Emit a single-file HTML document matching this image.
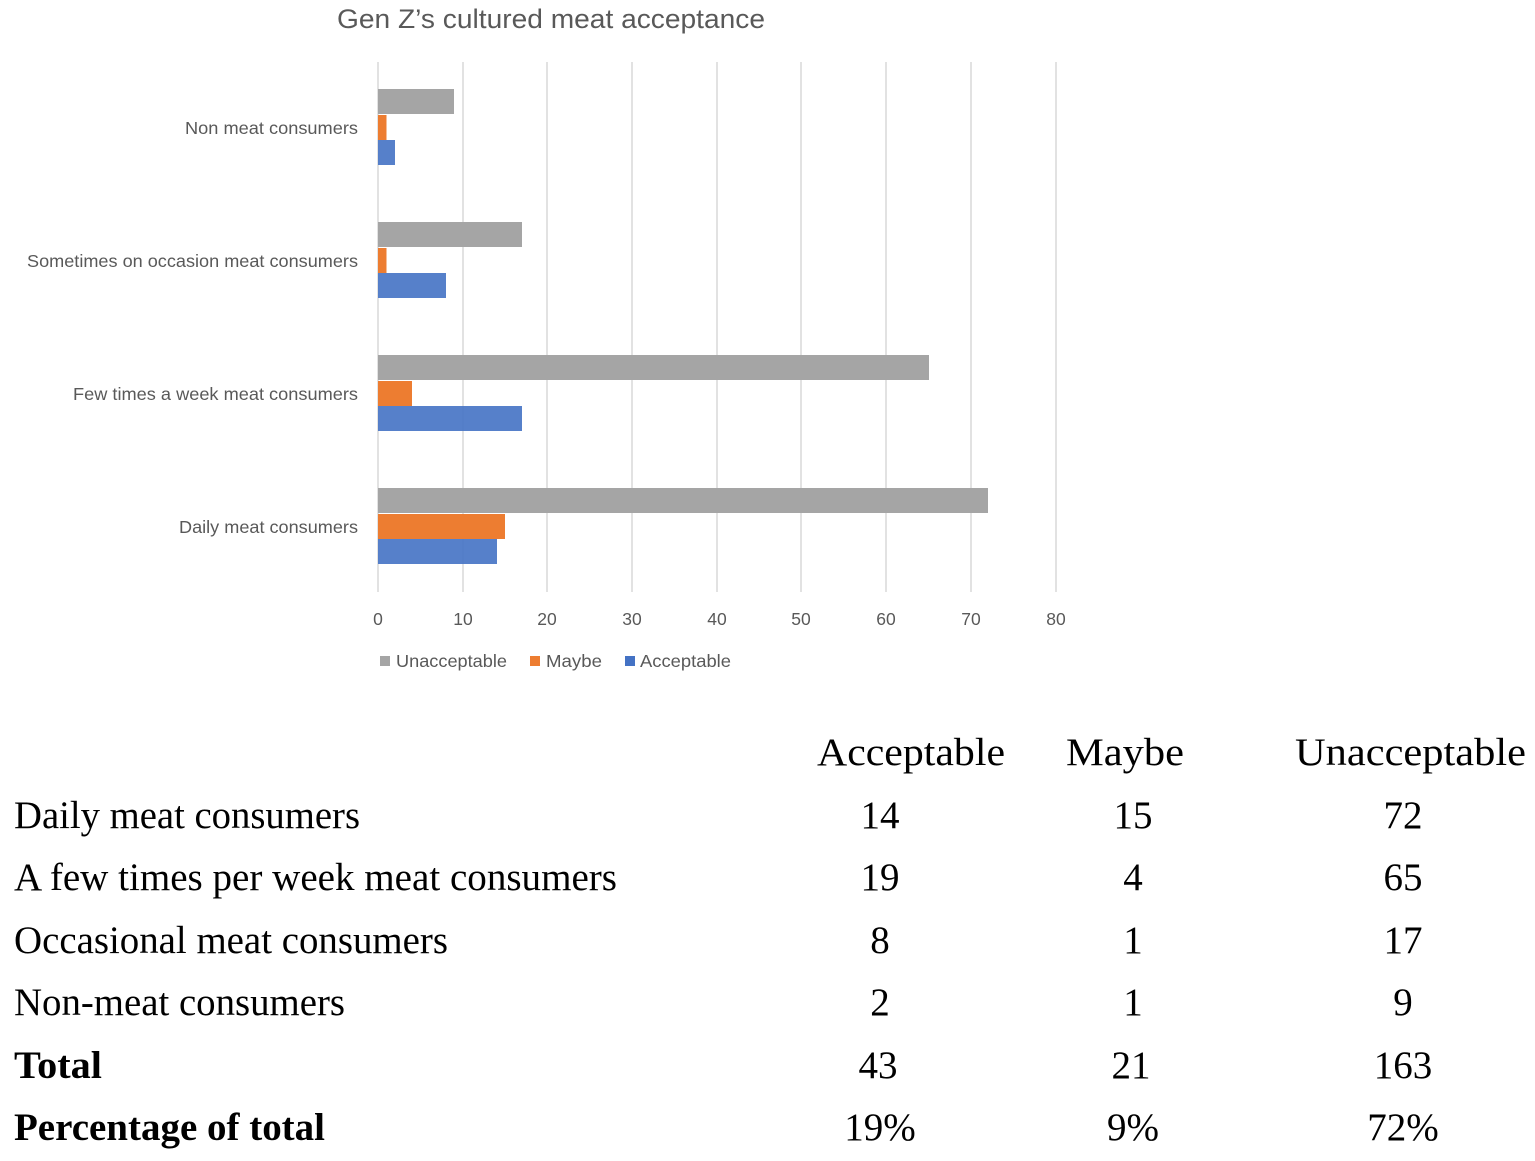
<!DOCTYPE html>
<html><head><meta charset="utf-8"><style>
html,body{margin:0;padding:0;background:#fff;}
svg{display:block;}
</style></head><body>
<svg width="1535" height="1161" xmlns="http://www.w3.org/2000/svg">
<text x="337" y="28" font-family="Liberation Sans, sans-serif" font-size="27" fill="#595959" textLength="428" lengthAdjust="spacingAndGlyphs">Gen Z’s cultured meat acceptance</text>
<g stroke="#d9d9d9" stroke-width="1.5">
<line x1="378" y1="62" x2="378" y2="592"/><line x1="463" y1="62" x2="463" y2="592"/><line x1="547" y1="62" x2="547" y2="592"/><line x1="632" y1="62" x2="632" y2="592"/><line x1="717" y1="62" x2="717" y2="592"/><line x1="801" y1="62" x2="801" y2="592"/><line x1="886" y1="62" x2="886" y2="592"/><line x1="971" y1="62" x2="971" y2="592"/><line x1="1056" y1="62" x2="1056" y2="592"/>
</g>
<g>
<rect x="378" y="89" width="76" height="25" fill="#a5a5a5"/>
<rect x="378" y="115" width="8.5" height="25" fill="#ed7d31"/>
<rect x="378" y="140" width="17" height="25" fill="#4472c4" opacity="0.9"/>
<rect x="378" y="222" width="144" height="25" fill="#a5a5a5"/>
<rect x="378" y="248" width="8.5" height="25" fill="#ed7d31"/>
<rect x="378" y="273" width="68" height="25" fill="#4472c4" opacity="0.9"/>
<rect x="378" y="355" width="551" height="25" fill="#a5a5a5"/>
<rect x="378" y="381" width="34" height="25" fill="#ed7d31"/>
<rect x="378" y="406" width="144" height="25" fill="#4472c4" opacity="0.9"/>
<rect x="378" y="488" width="610" height="25" fill="#a5a5a5"/>
<rect x="378" y="514" width="127" height="25" fill="#ed7d31"/>
<rect x="378" y="539" width="119" height="25" fill="#4472c4" opacity="0.9"/>
</g>
<g font-family="Liberation Sans, sans-serif" font-size="17.5" fill="#595959" lengthAdjust="spacingAndGlyphs">
<text x="185" y="134" textLength="173" lengthAdjust="spacingAndGlyphs">Non meat consumers</text>
<text x="27" y="267" textLength="331" lengthAdjust="spacingAndGlyphs">Sometimes on occasion meat consumers</text>
<text x="73" y="400" textLength="285" lengthAdjust="spacingAndGlyphs">Few times a week meat consumers</text>
<text x="179" y="533" textLength="179" lengthAdjust="spacingAndGlyphs">Daily meat consumers</text>
</g>
<g font-family="Liberation Sans, sans-serif" font-size="17.5" fill="#595959" text-anchor="middle">
<text x="378" y="625">0</text><text x="463" y="625">10</text><text x="547" y="625">20</text><text x="632" y="625">30</text><text x="717" y="625">40</text><text x="801" y="625">50</text><text x="886" y="625">60</text><text x="971" y="625">70</text><text x="1056" y="625">80</text>
</g>
<g font-family="Liberation Sans, sans-serif" font-size="17.5" fill="#595959">
<rect x="380" y="656" width="10" height="10" fill="#a5a5a5"/><text x="396" y="667" textLength="111" lengthAdjust="spacingAndGlyphs">Unacceptable</text>
<rect x="530" y="656" width="10" height="10" fill="#ed7d31"/><text x="546" y="667" textLength="56" lengthAdjust="spacingAndGlyphs">Maybe</text>
<rect x="625" y="656" width="10" height="10" fill="#4472c4"/><text x="640" y="667" textLength="91" lengthAdjust="spacingAndGlyphs">Acceptable</text>
</g>
<g font-family="Liberation Serif, serif" font-size="39" fill="#000">
<text x="817" y="765" textLength="188" lengthAdjust="spacingAndGlyphs">Acceptable</text>
<text x="1066" y="765" textLength="118" lengthAdjust="spacingAndGlyphs">Maybe</text>
<text x="1295" y="765" textLength="231" lengthAdjust="spacingAndGlyphs">Unacceptable</text>
<text x="14" y="828" textLength="346" lengthAdjust="spacingAndGlyphs">Daily meat consumers</text>
<text x="14" y="890" textLength="603" lengthAdjust="spacingAndGlyphs">A few times per week meat consumers</text>
<text x="14" y="953" textLength="434" lengthAdjust="spacingAndGlyphs">Occasional meat consumers</text>
<text x="14" y="1015" textLength="331" lengthAdjust="spacingAndGlyphs">Non-meat consumers</text>
<text x="14" y="1078" font-weight="bold" textLength="88" lengthAdjust="spacingAndGlyphs">Total</text>
<text x="14" y="1140" font-weight="bold" textLength="311" lengthAdjust="spacingAndGlyphs">Percentage of total</text>
<g text-anchor="middle">
<text x="880" y="828">14</text><text x="1133" y="828">15</text><text x="1403" y="828">72</text>
<text x="880" y="890">19</text><text x="1133" y="890">4</text><text x="1403" y="890">65</text>
<text x="880" y="953">8</text><text x="1133" y="953">1</text><text x="1403" y="953">17</text>
<text x="880" y="1015">2</text><text x="1133" y="1015">1</text><text x="1403" y="1015">9</text>
<text x="878" y="1078">43</text><text x="1131" y="1078">21</text><text x="1403" y="1078">163</text>
<text x="880" y="1140">19%</text><text x="1133" y="1140">9%</text><text x="1403" y="1140">72%</text>
</g>
</g>
</svg>
</body></html>
